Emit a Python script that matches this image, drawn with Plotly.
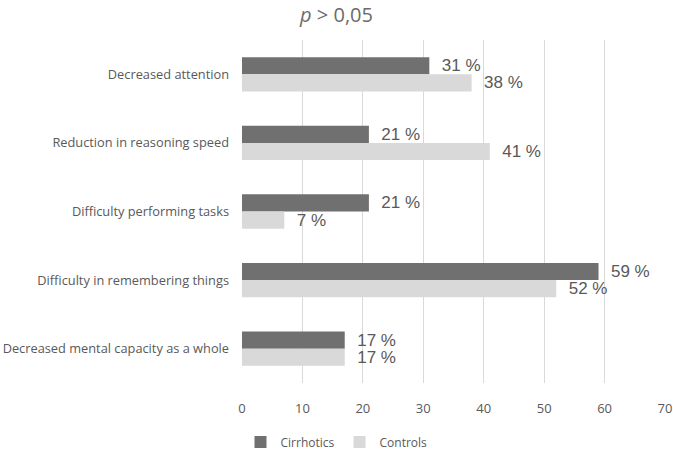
import plotly.graph_objects as go

categories = ["Decreased attention", "Reduction in reasoning speed", "Difficulty performing tasks",
              "Difficulty in remembering things", "Decreased mental capacity as a whole"]
cirrhotics = [31, 21, 21, 59, 17]
controls = [38, 41, 7, 52, 17]
xticks = [0, 10, 20, 30, 40, 50, 60, 70]

fig = go.Figure()
fig.add_trace(go.Bar(y=categories, x=cirrhotics, name="Cirrhotics", orientation="h",
                     marker=dict(color="#707071", line=dict(width=0)),
                     texttemplate="  %{x} %", textposition="outside", cliponaxis=False,
                     constraintext="none",
                     textfont=dict(family="Liberation Sans, Arial", size=17, color="#595959")))
fig.add_trace(go.Bar(y=categories, x=controls, name="Controls", orientation="h",
                     marker=dict(color="#d9d9d9", line=dict(width=0)),
                     texttemplate="  %{x} %", textposition="outside", cliponaxis=False,
                     constraintext="none",
                     textfont=dict(family="Liberation Sans, Arial", size=17, color="#595959")))

fig.update_layout(
    width=673, height=452,
    barmode="group", bargap=0.5, bargroupgap=0,
    plot_bgcolor="white", paper_bgcolor="white",
    margin=dict(l=242, r=8, t=40, b=69, autoexpand=False),
    font=dict(family="Open Sans", size=12, color="#595959"),
    title=dict(text="<i>p</i> > 0,05", x=0.5, xanchor="center", y=0.966, yanchor="middle",
               font=dict(family="Open Sans", size=20, color="#6b6b6b")),
    showlegend=True,
    legend=dict(orientation="h", xref="container", yref="container", x=0.5, xanchor="center",
                y=0.022, yanchor="middle", font=dict(size=12, color="#595959"),
                traceorder="normal"),
)
fig.update_xaxes(range=[0, 70], tickvals=xticks, showgrid=True, gridcolor="#d9d9d9", gridwidth=1,
                 zeroline=False, showline=False, ticklabelstandoff=16, automargin=False,
                 tickfont=dict(size=13, color="#595959"))
fig.update_yaxes(autorange="reversed", showgrid=False, showline=False, ticks="", automargin=False,
                 ticklabelstandoff=12, tickfont=dict(size=12.8, color="#595959"))

fig.write_html("out.html", config={"displayModeBar": False},
               post_script="document.body.style.margin='0';")
